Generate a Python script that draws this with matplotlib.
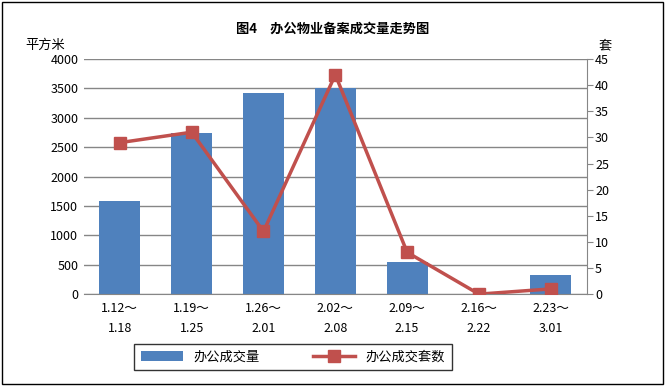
import matplotlib.pyplot as plt
from matplotlib.patches import Rectangle

plt.rcParams['font.family'] = ['Noto Sans CJK SC', 'DejaVu Sans']

# 数据
weeks = ['1.12～\n1.18', '1.19～\n1.25', '1.26～\n2.01', '2.02～\n2.08',
         '2.09～\n2.15', '2.16～\n2.22', '2.23～\n3.01']
area = [1580, 2750, 3420, 3500, 540, 0, 320]      # 办公成交量 (平方米)
units = [29, 31, 12, 42, 8, 0, 1]                 # 办公成交套数 (套)

fig = plt.figure(figsize=(6.66, 3.86), dpi=100)
fig.patches.append(Rectangle((0.003, 0.004), 0.992, 0.99, transform=fig.transFigure,
                             fill=False, edgecolor='black', linewidth=1))

ax = fig.add_axes([0.126, 0.238, 0.755, 0.609])
x = list(range(len(weeks)))
bars = ax.bar(x, area, width=0.57, color='#4F81BD', label='办公成交量', zorder=2)
ax.set_ylim(0, 4000)
ax.set_yticks(range(0, 4001, 500))
ax.set_xlim(-0.5, len(weeks) - 0.5)
ax.set_xticks(x)
ax.set_xticklabels(weeks, fontsize=9, linespacing=1.7)
ax.grid(axis='y', color='#868686', linewidth=1, zorder=0)
for s in ['top', 'left', 'right']:
    ax.spines[s].set_visible(False)
ax.spines['bottom'].set_color('#868686')
ax.tick_params(axis='y', length=0, labelsize=9, pad=4)
ax.tick_params(axis='x', length=0, pad=6)

ax2 = ax.twinx()
line, = ax2.plot(x, units, color='#C0504D', linewidth=2.5, marker='s', markersize=8,
                 markeredgecolor='#C0504D', label='办公成交套数', zorder=3)
ax2.set_ylim(0, 45)
ax2.set_yticks(range(0, 46, 5))
for s in ['top', 'left', 'bottom']:
    ax2.spines[s].set_visible(False)
ax2.spines['right'].set_color('#868686')
ax2.tick_params(axis='y', length=4, color='#868686', labelsize=9, pad=2)

fig.text(0.5, 0.925, '图4　办公物业备案成交量走势图', ha='center', va='center',
         fontsize=9.5, fontweight='bold')
fig.text(0.068, 0.882, '平方米', ha='center', va='center', fontsize=9.5)
fig.text(0.908, 0.882, '套', ha='center', va='center', fontsize=9.5)

leg = fig.legend(handles=[bars, line], loc='center', bbox_to_anchor=(0.44, 0.075),
                 ncol=2, fontsize=9.5, frameon=True, fancybox=False, edgecolor='black',
                 handlelength=3.2, columnspacing=4, borderpad=0.5)
leg.get_frame().set_linewidth(1)

fig.savefig('out.png', dpi=100)
